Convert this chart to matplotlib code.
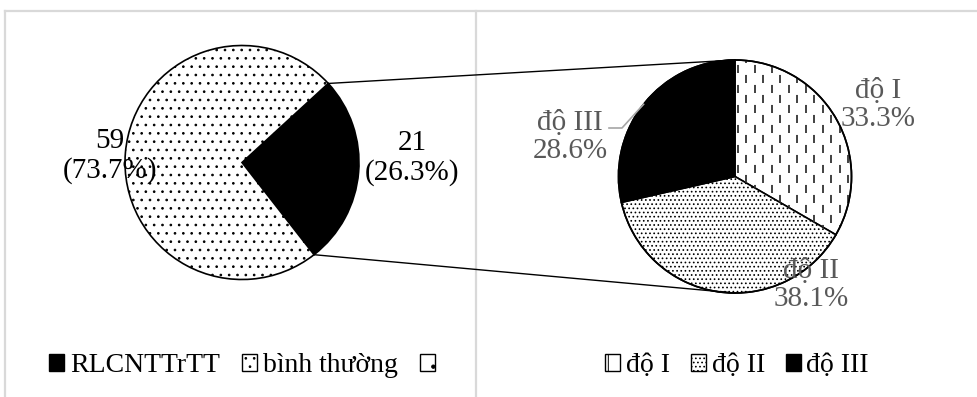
import matplotlib
matplotlib.use("Agg")
import matplotlib.pyplot as plt
from matplotlib.patches import Rectangle
import numpy as np

plt.rcParams['font.family'] = ['Liberation Serif', 'DejaVu Serif']
plt.rcParams['lines.scale_dashes'] = False
plt.rcParams['hatch.linewidth'] = 0.7

# Overall split of the study group
main_labels = ["RLCNTTrTT", "bình thường"]
main_counts = [21, 59]
main_pct = ["26.3%", "73.7%"]

# Breakdown of the RLCNTTrTT group by grade
grade_labels = ["độ I", "độ II", "độ III"]
grade_counts = [7, 8, 6]
grade_pct = ["33.3%", "38.1%", "28.6%"]

W, H = 978, 397
fig = plt.figure(figsize=(W / 100, H / 100), dpi=100)
ax = fig.add_axes([0, 0, 1, 1])


def py(y):
    """Pixel row (from the top) to axis y."""
    return H - y


GRAY_TXT = '#595959'
FRAME = '#d9d9d9'

L_C, L_R = (242.0, py(162.5)), 117.0
R_C, R_R = (735.0, py(176.5)), 116.5

# main pie
wl, _ = ax.pie(main_counts, radius=L_R, center=L_C, startangle=-52,
               counterclock=True, colors=['black', 'white'],
               hatch=['', '..'],
               wedgeprops=dict(edgecolor='black', linewidth=1.2))

# secondary pie
wr, _ = ax.pie(grade_counts, radius=R_R, center=R_C, startangle=90,
               counterclock=False, colors=['white', 'white', 'black'],
               hatch=['', '....', ''],
               wedgeprops=dict(edgecolor='black', linewidth=1.2))

# dashed vertical pattern inside the "độ I" wedge
step = 8.5
xs = np.arange(R_C[0] - R_R, R_C[0] + R_R + step, step)
for i, x in enumerate(xs):
    off = 0 if i % 2 == 0 else 7.2
    ln, = ax.plot([x, x], [R_C[1] - R_R, R_C[1] + R_R], color='#333333',
                  lw=1.3, linestyle=(off, (5.8, 8.6)), zorder=wr[0].get_zorder() + 0.1)
    ln.set_clip_path(wr[0])
# redraw the outline above the pattern
ax.add_patch(plt.Circle(R_C, R_R, fill=False, ec='black', lw=1.2, zorder=5))

# connector lines between the black slice and the secondary pie
w0 = wl[0]
for th, ty in ((w0.theta2, R_C[1] + R_R), (w0.theta1, R_C[1] - R_R)):
    x0 = L_C[0] + L_R * np.cos(np.radians(th))
    y0 = L_C[1] + L_R * np.sin(np.radians(th))
    ax.plot([x0, R_C[0]], [y0, ty], color='black', lw=1.0, zorder=1)

# slice labels
fs = 21
ax.text(412, py(158), f"{main_counts[0]}\n({main_pct[0]})", ha='center',
        va='center', fontsize=fs, color='black', linespacing=1.15, zorder=6)
ax.text(110, py(156), f"{main_counts[1]}\n({main_pct[1]})", ha='center',
        va='center', fontsize=fs, color='black', linespacing=1.15, zorder=6)

ax.text(878, py(105), f"{grade_labels[0]}\n{grade_pct[0]}", ha='center',
        va='center', fontsize=fs, color=GRAY_TXT, linespacing=1.1, zorder=6)
ax.text(811, py(285), f"{grade_labels[1]}\n{grade_pct[1]}", ha='center',
        va='center', fontsize=fs, color=GRAY_TXT, linespacing=1.1, zorder=6)
ax.text(570, py(137), f"{grade_labels[2]}\n{grade_pct[2]}", ha='center',
        va='center', fontsize=fs, color=GRAY_TXT, linespacing=1.1, zorder=6)

# leader line for the "độ III" label
a = np.radians(141.7)
ex, ey = R_C[0] + R_R * np.cos(a), R_C[1] + R_R * np.sin(a)
ax.plot([609, 622, ex], [py(128), py(128), ey], color='#a6a6a6', lw=1.2, zorder=6)

# chart frames
for xs_, ys_ in (([4.5, W], [py(11), py(11)]),
                 ([4.5, 4.5], [py(11), 0]),
                 ([476, 476], [py(11), 0])):
    ax.plot(xs_, ys_, color=FRAME, lw=1.6, clip_on=False, zorder=0)


def square(fc, hatch=''):
    return Rectangle((0, 0), 1, 1, facecolor=fc, edgecolor='black',
                     hatch=hatch, linewidth=1.0)


leg_kw = dict(ncol=3, loc='center', bbox_transform=ax.transData,
              frameon=False, fontsize=20, handlelength=0.55,
              handleheight=0.55, handletextpad=0.2, borderpad=0,
              borderaxespad=0)

leg1 = ax.legend([square('black'), square('white', '..'), square('white', '.')],
                 main_labels + [""], bbox_to_anchor=(245, py(366)),
                 columnspacing=0.8, **leg_kw)
ax.add_artist(leg1)
ax.legend([square('white', '|'), square('white', '....'), square('black')],
          grade_labels, bbox_to_anchor=(737, py(366)),
          columnspacing=0.75, **leg_kw)

ax.set_xlim(0, W)
ax.set_ylim(0, H)
ax.set_aspect('auto')
ax.axis('off')

fig.savefig('out.png', dpi=100)
